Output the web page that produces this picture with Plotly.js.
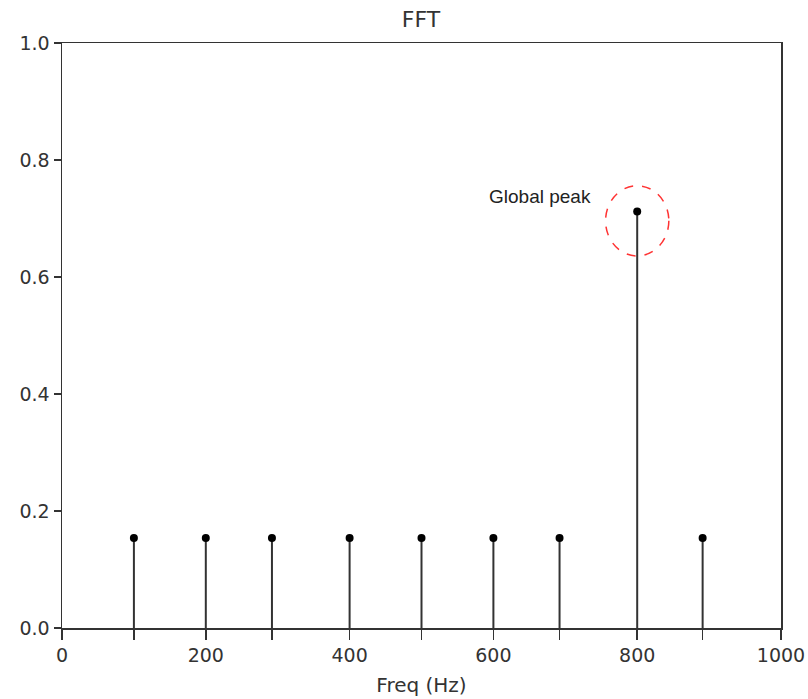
<!DOCTYPE html>
<html>
<head>
<meta charset="utf-8">
<script src="https://cdn.plot.ly/plotly-3.0.1.min.js"></script>
<style>html,body{margin:0;padding:0;background:#fff;}</style>
</head>
<body>
<div id="chart" style="width:808px;height:699px;"></div>
<script>
const freqs = [100, 200, 292, 400, 500, 600, 692, 800, 891];
const amps = [0.154, 0.154, 0.154, 0.154, 0.154, 0.154, 0.154, 0.712, 0.154];
const majorTicks = [0, 200, 400, 600, 800, 1000];
const yTicks = [0, 0.2, 0.4, 0.6, 0.8, 1.0];
const annotationText = "Global peak";

const peakIdx = amps.indexOf(Math.max(...amps));
const peakX = freqs[peakIdx], peakY = amps[peakIdx];

const tickvals = [...majorTicks, ...freqs].sort((a,b)=>a-b);
const ticktext = tickvals.map(v => majorTicks.includes(v) ? String(v) : "");

const trace = {
  x: freqs, y: amps, type: 'scatter', mode: 'markers',
  marker: {color: '#000', size: 8},
  error_y: {type: 'data', symmetric: false, array: freqs.map(()=>0), arrayminus: amps,
            width: 0, thickness: 2, color: '#333'},
  hoverinfo: 'x+y', showlegend: false
};

const df = 'DejaVu Sans, sans-serif';
const layout = {
  width: 808, height: 699,
  margin: {l: 62, r: 27, t: 43, b: 71},
  paper_bgcolor: '#fff', plot_bgcolor: '#fff',
  font: {family: df, size: 19, color: '#333'},
  title: {text: 'FFT', x: 0.521, xanchor: 'center', y: 0.973, yanchor: 'middle', font: {family: df, size: 22, color: '#333'}},
  xaxis: {
    range: [0, 1000], tickmode: 'array', tickvals: tickvals, ticktext: ticktext,
    ticks: 'outside', ticklen: 10, tickwidth: 1.5, tickcolor: '#333',
    showline: true, linecolor: '#333', linewidth: 1.5, mirror: true,
    showgrid: false, zeroline: false,
    tickfont: {family: df, size: 19, color: '#333'},
    title: {text: 'Freq (Hz)', standoff: 12, font: {family: df, size: 20, color: '#333'}}
  },
  yaxis: {
    range: [0, 1.0], tickmode: 'array', tickvals: yTicks, ticktext: yTicks.map(v=>v.toFixed(1)),
    ticks: 'outside', ticklen: 7, tickwidth: 1.5, tickcolor: '#333',
    showline: true, linecolor: '#333', linewidth: 1.5, mirror: true,
    showgrid: false, zeroline: false,
    tickfont: {family: df, size: 19, color: '#333'}
  },
  shapes: [{
    type: 'circle', xref: 'x', yref: 'y',
    x0: peakX - 44, x1: peakX + 44, y0: peakY - 0.076, y1: peakY + 0.044,
    line: {color: '#ff3333', width: 1.5, dash: 'dash'}
  }],
  annotations: [{
    x: peakX - 135, y: peakY + 0.025, xref: 'x', yref: 'y',
    text: annotationText, showarrow: false,
    font: {family: 'Liberation Sans, Arial, sans-serif', size: 19, color: '#222'}
  }]
};

Plotly.newPlot('chart', [trace], layout, {displayModeBar: false, staticPlot: true});
</script>
</body>
</html>
